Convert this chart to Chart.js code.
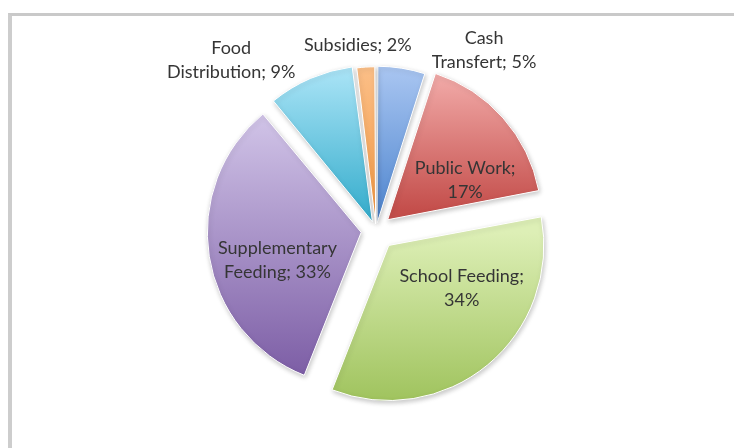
<!DOCTYPE html>
<html>
<head>
<meta charset="utf-8">
<script src="https://cdn.jsdelivr.net/npm/chart.js@4.4.1/dist/chart.umd.min.js"></script>
<style>
  html, body { margin: 0; padding: 0; background: #fff; }
  #wrap { position: relative; width: 734px; height: 448px; overflow: hidden; }
  #frame { position: absolute; left: 8px; top: 13px; width: 740px; height: 460px;
           border-top: 3px solid #c9c9c9; border-left: 4px solid #cdcdcd; }
  canvas { position: absolute; left: 0; top: 0; }
</style>
</head>
<body>
<div id="wrap">
  <div id="frame"></div>
  <canvas id="chart" width="734" height="448"></canvas>
</div>
<script>
const categories = ['Cash Transfert', 'Public Work', 'School Feeding', 'Supplementary Feeding', 'Food Distribution', 'Subsidies'];
const shares = [5, 17, 34, 33, 9, 2];

// styling
const topColors = ['#abc7f2', '#f5b1af', '#ddefb6', '#d0c3e7', '#afe6f8', '#fbbf88'];
const bottomColors = ['#4f86cf', '#c44e4b', '#9bc057', '#7c5da5', '#38aecd', '#f59a44'];
// Chart.js v4 moves an arc by offset / 4 pixels
const explode = [28, 62, 80, 60, 36, 24];
const wordsOnFirstLine = [1, 2, 2, 1, 1, 9];
// label anchor: [distance as fraction of radius, angle shift in degrees]
const labelAnchor = [[1.38, 22], [0.673, 12], [0.683, -16], [0.678, -8], [1.47, -17], [1.224, -2]];
const RADIUS = 152;

function sliceAngles(i) {
  const total = shares.reduce((a, b) => a + b, 0);
  let before = 0;
  for (let k = 0; k < i; k++) before += shares[k];
  const a0 = -Math.PI / 2 + before / total * 2 * Math.PI;
  const a1 = a0 + shares[i] / total * 2 * Math.PI;
  return [a0, a1];
}

function sliceGradient(ctx) {
  const chart = ctx.chart;
  const i = ctx.dataIndex;
  const area = chart.chartArea;
  if (!area) return topColors[i];
  const cy = (area.top + area.bottom) / 2;
  const [a0, a1] = sliceAngles(i);
  const mid = (a0 + a1) / 2;
  const dy = Math.sin(mid) * explode[i] / 4;
  const ys = [0, Math.sin(a0) * RADIUS, Math.sin(a1) * RADIUS];
  for (const ex of [-Math.PI / 2, Math.PI / 2, 3 * Math.PI / 2]) {
    if (ex > a0 && ex < a1) ys.push(Math.sin(ex) * RADIUS);
  }
  const y0 = cy + dy + Math.min(...ys);
  const y1 = cy + dy + Math.max(...ys);
  const g = chart.ctx.createLinearGradient(0, y0, 0, y1 + 1);
  g.addColorStop(0, topColors[i]);
  g.addColorStop(1, bottomColors[i]);
  return g;
}

const shadowPlugin = {
  id: 'shadow',
  beforeDatasetsDraw(chart) {
    const c = chart.ctx;
    c.save();
    c.shadowColor = 'rgba(0,0,0,0.22)';
    c.shadowBlur = 5;
    c.shadowOffsetX = 1;
    c.shadowOffsetY = 2;
  },
  afterDatasetsDraw(chart) {
    chart.ctx.restore();
  }
};

const labelPlugin = {
  id: 'sliceLabels',
  afterDatasetsDraw(chart) {
    const c = chart.ctx;
    const meta = chart.getDatasetMeta(0);
    c.save();
    c.font = '18px Lato, "Open Sans", sans-serif';
    c.fillStyle = '#353535';
    c.textAlign = 'center';
    c.textBaseline = 'middle';
    meta.data.forEach((arc, i) => {
      const mid = (arc.startAngle + arc.endAngle) / 2 + labelAnchor[i][1] * Math.PI / 180;
      const r = arc.outerRadius * labelAnchor[i][0];
      const x = arc.x + Math.cos(mid) * r;
      const y = arc.y + Math.sin(mid) * r;
      const words = (categories[i] + '; ' + shares[i] + '%').split(' ');
      const lines = [words.slice(0, wordsOnFirstLine[i]).join(' ')];
      if (words.length > wordsOnFirstLine[i]) lines.push(words.slice(wordsOnFirstLine[i]).join(' '));
      const lh = 24;
      lines.forEach((ln, k) => {
        c.fillText(ln, x, y + (k - (lines.length - 1) / 2) * lh);
      });
    });
    c.restore();
  }
};

new Chart(document.getElementById('chart'), {
  type: 'pie',
  data: {
    labels: categories,
    datasets: [{
      data: shares,
      backgroundColor: sliceGradient,
      borderColor: '#ffffff',
      borderWidth: 1,
      offset: explode
    }]
  },
  options: {
    responsive: false,
    animation: false,
    radius: RADIUS,
    layout: { padding: { left: 18, top: 12 } },
    plugins: {
      legend: { display: false },
      tooltip: { enabled: false }
    }
  },
  plugins: [shadowPlugin, labelPlugin]
});
</script>
</body>
</html>
